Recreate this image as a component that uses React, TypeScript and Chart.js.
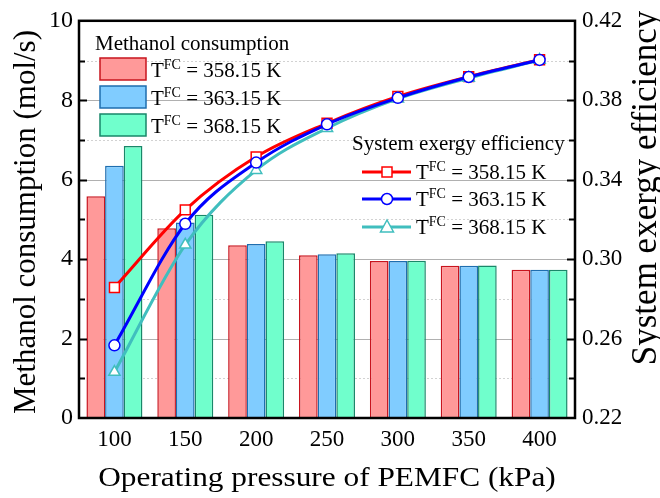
import React, { useEffect, useRef } from "react";
import { Chart, registerables } from "chart.js";

Chart.register(...registerables);

const categories = ["100", "150", "200", "250", "300", "350", "400"];
const seriesLabels = ["358.15 K", "363.15 K", "368.15 K"];
const methanol358 = [5.58, 4.78, 4.35, 4.1, 3.95, 3.83, 3.73];
const methanol363 = [6.35, 4.92, 4.38, 4.12, 3.95, 3.83, 3.73];
const methanol368 = [6.85, 5.12, 4.45, 4.15, 3.96, 3.84, 3.73];
const exergy358 = [0.2857, 0.3248, 0.3515, 0.3684, 0.3819, 0.3919, 0.4004];
const exergy363 = [0.2566, 0.3178, 0.3486, 0.3679, 0.3812, 0.3917, 0.4003];
const exergy368 = [0.2431, 0.3072, 0.3448, 0.3659, 0.3808, 0.3912, 0.4002];
const rightTicks = [0.22, 0.26, 0.3, 0.34, 0.38, 0.42];
const xTitle = "Operating pressure of PEMFC (kPa)";
const yTitle = "Methanol consumption (mol/s)";
const y1Title = "System exergy efficiency";
const legend1Title = "Methanol consumption";
const legend2Title = "System exergy efficiency";

const FONT = '"Liberation Serif", "Times New Roman", serif';
const barFill = ["rgb(255,153,153)", "rgb(128,204,255)", "rgb(112,255,204)"];
const barBorder = ["rgb(200,20,30)", "rgb(30,110,175)", "rgb(25,135,105)"];
const lineColor = ["rgb(255,0,0)", "rgb(0,0,255)", "rgb(64,190,190)"];
const markers = ["rect", "circle", "triangle"];
const markerRadius = [7, 5.5, 6.5];

function drawTLabel(ctx: CanvasRenderingContext2D, x: number, y: number, rest: string) {
  ctx.textAlign = "left";
  ctx.textBaseline = "alphabetic";
  ctx.fillStyle = "#000";
  ctx.font = `21px ${FONT}`;
  ctx.fillText("T", x, y);
  let w = ctx.measureText("T").width;
  ctx.font = `14px ${FONT}`;
  ctx.fillText("FC", x + w, y - 8);
  w += ctx.measureText("FC").width;
  ctx.font = `21px ${FONT}`;
  ctx.fillText(" = " + rest, x + w, y);
}

const customPlugin = {
  id: "custom",
  beforeDatasetsDraw(chart: any) {
    const ctx = chart.ctx;
    const { left, right } = chart.chartArea;
    const ys = chart.scales.y;
    ctx.save();
    for (let v = 1; v <= 9; v++) {
      const py = Math.round(ys.getPixelForValue(v)) + 0.5;
      ctx.beginPath();
      if (v % 2 === 0) {
        ctx.setLineDash([]);
        ctx.strokeStyle = "#b0b0b0";
      } else {
        ctx.setLineDash([2, 2]);
        ctx.strokeStyle = "#d2d2d2";
      }
      ctx.lineWidth = 1;
      ctx.moveTo(left, py);
      ctx.lineTo(right, py);
      ctx.stroke();
    }
    ctx.restore();
  },
  afterDatasetsDraw(chart: any) {
    const ctx = chart.ctx;
    const { left, right, top, bottom } = chart.chartArea;
    const ys = chart.scales.y;
    ctx.save();
    ctx.strokeStyle = "#000";
    ctx.lineWidth = 2;
    for (let v = 1; v <= 9; v++) {
      const py = Math.round(ys.getPixelForValue(v)) + 0.5;
      const len = v % 2 === 0 ? 8 : 6;
      ctx.beginPath();
      ctx.moveTo(left, py);
      ctx.lineTo(left + len, py);
      ctx.moveTo(right, py);
      ctx.lineTo(right - len, py);
      ctx.stroke();
    }
    ctx.lineWidth = 2.5;
    ctx.strokeRect(left, top, right - left, bottom - top);

    // Axis titles
    ctx.fillStyle = "#000";
    ctx.textAlign = "center";
    ctx.textBaseline = "alphabetic";
    ctx.save();
    ctx.translate(327, 486);
    ctx.scale(1.16, 1);
    ctx.font = `27px ${FONT}`;
    ctx.fillText(xTitle, 0, 0);
    ctx.restore();

    ctx.save();
    ctx.translate(35, 222);
    ctx.rotate(-Math.PI / 2);
    ctx.font = `31px ${FONT}`;
    ctx.fillText(yTitle, 0, 0);
    ctx.restore();

    ctx.save();
    ctx.translate(656, 188);
    ctx.rotate(-Math.PI / 2);
    ctx.font = `35px ${FONT}`;
    ctx.fillText(y1Title, 0, 0);
    ctx.restore();

    // Left legend
    ctx.fillStyle = "#000";
    ctx.font = `21px ${FONT}`;
    ctx.textAlign = "left";
    ctx.textBaseline = "alphabetic";
    ctx.fillText(legend1Title, 95, 50);
    const boxY = [58, 86, 114];
    for (let i = 0; i < 3; i++) {
      ctx.fillStyle = barFill[i];
      ctx.fillRect(100, boxY[i], 46, 22);
      ctx.strokeStyle = barBorder[i];
      ctx.lineWidth = 1.5;
      ctx.strokeRect(100, boxY[i], 46, 22);
      drawTLabel(ctx, 151, boxY[i] + 19, seriesLabels[i]);
    }

    // Right legend
    ctx.fillStyle = "#000";
    ctx.font = `21px ${FONT}`;
    ctx.textAlign = "left";
    ctx.fillText(legend2Title, 352, 150);
    const rowY = [172, 199, 227];
    for (let i = 0; i < 3; i++) {
      const cy = rowY[i];
      ctx.strokeStyle = lineColor[i];
      ctx.lineWidth = 3;
      ctx.beginPath();
      ctx.moveTo(362, cy);
      ctx.lineTo(411, cy);
      ctx.stroke();
      ctx.fillStyle = "#fff";
      ctx.lineWidth = 1.5;
      ctx.beginPath();
      if (i === 0) {
        ctx.rect(382, cy - 5, 10, 10);
      } else if (i === 1) {
        ctx.arc(387, cy, 5.5, 0, Math.PI * 2);
      } else {
        ctx.moveTo(387, cy - 7);
        ctx.lineTo(393.5, cy + 5);
        ctx.lineTo(380.5, cy + 5);
        ctx.closePath();
      }
      ctx.fill();
      ctx.stroke();
      drawTLabel(ctx, 416, cy + 7, seriesLabels[i]);
    }
    ctx.restore();
  },
};

export default function App() {
  const ref = useRef<HTMLCanvasElement | null>(null);
  useEffect(() => {
    document.body.style.margin = "0";
    const canvas = ref.current;
    if (!canvas) return;
    const barSets = [methanol358, methanol363, methanol368].map((d, i) => ({
      type: "bar" as const,
      label: "Methanol " + seriesLabels[i],
      data: d,
      yAxisID: "y",
      backgroundColor: barFill[i],
      borderColor: barBorder[i],
      borderWidth: 1.5,
      barPercentage: 1,
      categoryPercentage: 0.79,
      order: 2,
    }));
    const lineSets = [exergy358, exergy363, exergy368].map((d, i) => ({
      type: "line" as const,
      label: "Exergy " + seriesLabels[i],
      data: d,
      yAxisID: "y1",
      borderColor: lineColor[i],
      borderWidth: 3,
      pointStyle: markers[i],
      pointRadius: markerRadius[i],
      pointBackgroundColor: "#fff",
      pointBorderColor: lineColor[i],
      pointBorderWidth: 1.5,
      cubicInterpolationMode: "monotone" as const,
      fill: false,
      order: i === 1 ? 0 : i === 0 ? 1 : 0.5,
    }));
    const chart = new Chart(canvas, {
      type: "bar",
      data: { labels: categories, datasets: [...lineSets, ...barSets] as any },
      options: {
        animation: false,
        responsive: false,
        devicePixelRatio: 1,
        layout: { padding: { left: 0, right: 0, top: 19, bottom: 0 } },
        plugins: { legend: { display: false }, tooltip: { enabled: false } },
        scales: {
          x: {
            offset: true,
            grid: { display: false, drawTicks: false },
            border: { display: false },
            ticks: { font: { family: FONT, size: 23 }, color: "#000", padding: 8 },
            afterFit: (s: any) => { s.height = 80; },
          },
          y: {
            position: "left",
            min: 0,
            max: 10,
            ticks: { stepSize: 2, font: { family: FONT, size: 24 }, color: "#000", padding: 6 },
            grid: { display: false, drawTicks: false },
            border: { display: false },
            afterFit: (s: any) => { s.width = 79; },
          },
          y1: {
            position: "right",
            min: 0.22,
            max: 0.42,
            ticks: {
              stepSize: 0.04,
              font: { family: FONT, size: 23 },
              color: "#000",
              padding: 7,
              callback: (v: any) => Number(v).toFixed(2),
            },
            afterBuildTicks: (s: any) => { s.ticks = rightTicks.map((v) => ({ value: v })); },
            grid: { display: false, drawTicks: false },
            border: { display: false },
            afterFit: (s: any) => { s.width = 85; },
          },
        },
      },
      plugins: [customPlugin],
    });
    return () => chart.destroy();
  }, []);
  return (
    <div style={{ width: 660, height: 498, background: "#fff" }}>
      <canvas ref={ref} width={660} height={498} />
    </div>
  );
}
